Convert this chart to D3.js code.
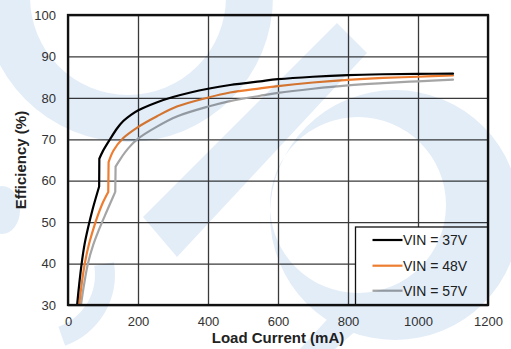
<!DOCTYPE html>
<html>
<head>
<meta charset="utf-8">
<script src="https://cdn.jsdelivr.net/npm/d3@7"></script>
<style>
  html, body { margin: 0; padding: 0; background: #fff; }
  svg { display: block; font-family: "Liberation Sans", Arial, sans-serif; }
</style>
</head>
<body>
<svg id="chart" width="511" height="349"></svg>
<script>
// Efficiency vs. load current, three input voltages
const xTicks = [0, 200, 400, 600, 800, 1000, 1200];
const yTicks = [30, 40, 50, 60, 70, 80, 90, 100];
const seriesNames = ["VIN = 37V", "VIN = 48V", "VIN = 57V"];
const seriesColors = ["#000000", "#ED7D31", "#A5A5A5"];

// [load current (mA), efficiency (%)]
const vin37 = [
  [26, 30], [32, 35], [39, 40], [47, 44.5], [57, 48.5], [70, 53], [89, 58.6],
  [89.5, 65.3], [100, 67.2], [120, 70], [140, 72.6], [158, 74.4], [180, 75.9],
  [201, 77], [253, 78.9], [300, 80.2], [350, 81.3], [400, 82.2], [463, 83.1],
  [549, 84.0], [600, 84.5], [700, 85.1], [800, 85.5], [900, 85.7], [1000, 85.8], [1100, 85.85]
];
const vin48 = [
  [32, 30], [39, 35], [48, 40], [60, 44.7], [73, 48.5], [86, 51.8], [100, 54.8],
  [115, 57.3], [116, 64.5], [130, 67.3], [158, 70.3], [201, 73], [253, 75.5],
  [311, 77.9], [401, 80.1], [463, 81.3], [549, 82.3], [600, 82.85], [700, 83.7],
  [800, 84.35], [900, 84.8], [1000, 85.1], [1100, 85.4]
];
const vin57 = [
  [37, 30], [46, 35], [57, 40], [72, 44.5], [89, 48.3], [106, 51.7], [122, 54.8],
  [135, 57.3], [136, 63.4], [150, 65.3], [172, 67.8], [201, 70.2], [253, 73],
  [311, 75.5], [401, 77.9], [463, 79.2], [549, 80.5], [600, 81.2], [700, 82.2],
  [800, 83.0], [900, 83.55], [1000, 84.0], [1100, 84.4]
];
const seriesData = [vin37, vin48, vin57];

const svg = d3.select("#chart");
const W = 511, H = 349;
const plot = { left: 68, right: 488, top: 15, bottom: 305 };

const x = d3.scaleLinear().domain([0, 1200]).range([plot.left, plot.right]);
const y = d3.scaleLinear().domain([30, 100]).range([plot.bottom, plot.top]);

svg.append("rect").attr("width", W).attr("height", H).attr("fill", "#fff");

// grid + tick labels
const gx = svg.append("g")
  .attr("transform", `translate(0,${plot.bottom})`)
  .call(d3.axisBottom(x).tickValues(xTicks).tickSize(-(plot.bottom - plot.top)).tickPadding(12).tickFormat(d3.format("d")));
const gy = svg.append("g")
  .attr("transform", `translate(${plot.left},0)`)
  .call(d3.axisLeft(y).tickValues(yTicks).tickSize(-(plot.right - plot.left)).tickPadding(12).tickFormat(d3.format("d")));

[gx, gy].forEach(g => {
  g.select(".domain").remove();
  g.selectAll(".tick line").attr("stroke", "#3a3a3a").attr("stroke-width", 1.3);
  g.selectAll(".tick text").attr("fill", "#333").attr("font-size", 13)
    .attr("font-family", "'Liberation Sans', Arial, sans-serif");
});

// data lines
svg.append("clipPath").attr("id", "plotClip")
  .append("rect").attr("x", plot.left).attr("y", plot.top)
  .attr("width", plot.right - plot.left).attr("height", plot.bottom - plot.top);

const smooth = d3.line().x(d => x(d[0])).y(d => y(d[1])).curve(d3.curveCatmullRom.alpha(0.5));
const straight = d3.line().x(d => x(d[0])).y(d => y(d[1]));

// the light-load mode change shows as a near-vertical step; keep its corners sharp
function seriesPath(pts) {
  const k = pts.findIndex((p, i) => i < pts.length - 1 && pts[i + 1][0] - p[0] < 2);
  if (k < 0) return smooth(pts);
  return smooth(pts.slice(0, k + 1)) + straight(pts.slice(k, k + 2)) + smooth(pts.slice(k + 1));
}

svg.append("g").attr("clip-path", "url(#plotClip)")
  .selectAll("path")
  .data(seriesData.map((d, i) => ({ pts: d, color: seriesColors[i] })).reverse())
  .join("path")
  .attr("d", d => seriesPath(d.pts))
  .attr("fill", "none")
  .attr("stroke", d => d.color)
  .attr("stroke-width", 2.2)
  .attr("stroke-linejoin", "round")
  .attr("stroke-linecap", "round");

// legend
const legend = svg.append("g");
legend.append("rect")
  .attr("x", 355.5).attr("y", 227)
  .attr("width", plot.right - 355.5).attr("height", plot.bottom - 227)
  .attr("fill", "#fff").attr("stroke", "#111").attr("stroke-width", 1.3);
const rowsY = [240, 265.7, 290.7];
seriesNames.forEach((name, i) => {
  legend.append("line")
    .attr("x1", 372.5).attr("x2", 402.5)
    .attr("y1", rowsY[i]).attr("y2", rowsY[i])
    .attr("stroke", seriesColors[i]).attr("stroke-width", 2.2);
  legend.append("text")
    .attr("x", 403).attr("y", rowsY[i] + 5)
    .attr("font-size", 14).attr("fill", "#222")
    .text(name);
});

// plot frame
svg.append("rect")
  .attr("x", plot.left).attr("y", plot.top)
  .attr("width", plot.right - plot.left).attr("height", plot.bottom - plot.top)
  .attr("fill", "none").attr("stroke", "#111").attr("stroke-width", 2.3);

// axis titles
svg.append("text")
  .attr("x", (plot.left + plot.right) / 2).attr("y", 343)
  .attr("text-anchor", "middle").attr("font-size", 15).attr("font-weight", "bold")
  .attr("fill", "#222").text("Load Current (mA)");
svg.append("text")
  .attr("transform", `translate(25.5,${(plot.top + plot.bottom) / 2}) rotate(-90)`)
  .attr("text-anchor", "middle").attr("font-size", 15).attr("font-weight", "bold")
  .attr("fill", "#222").text("Efficiency (%)");

// pale background emblem, blended over the page
const mark = svg.append("g").style("mix-blend-mode", "multiply").attr("fill", "#e3edf8");
const arc = d3.arc();
mark.append("path")
  .attr("transform", "translate(128,-3)")
  .attr("d", arc({ innerRadius: 98, outerRadius: 145, startAngle: Math.PI / 2, endAngle: 3 * Math.PI / 2 }));
// crescent: outer disc minus offset inner disc
const circ = (cx, cy, r) => `M${cx - r},${cy}a${r},${r} 0 1,0 ${2 * r},0a${r},${r} 0 1,0 ${-2 * r},0Z`;
mark.append("path")
  .attr("fill-rule", "evenodd")
  .attr("d", circ(395, 215, 125) + circ(358, 205, 88));
mark.append("path")
  .attr("d", "M337,23 L367,53 L177,257 L143,217 Z");
mark.append("path")
  .attr("d", "M300,349 L345,300 L380,310 L335,349 Z");
mark.append("path")
  .attr("transform", "translate(40,275)")
  .attr("d", arc({ innerRadius: 55, outerRadius: 75, startAngle: 1.4, endAngle: 2.8 }));
mark.append("ellipse").attr("cx", 2).attr("cy", 210).attr("rx", 18).attr("ry", 24);
</script>
</body>
</html>
